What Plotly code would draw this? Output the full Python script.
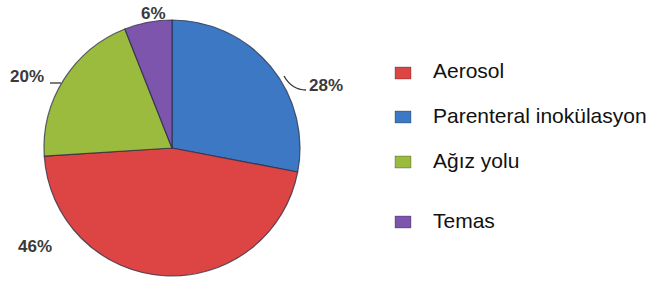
import plotly.graph_objects as go

categories = ["Aerosol", "Parenteral inokülasyon", "Ağız yolu", "Temas"]
values = [46, 28, 20, 6]
colors = ["#dc4544", "#3c78c4", "#9bbb3f", "#7d55ad"]

# slice order around the pie (clockwise from 12 o'clock)
pie_order = [1, 0, 2, 3]

W, H = 646, 281
cx, cy, r = 172, 148, 128


def px(x):
    return x / W


def py(y):
    return 1 - y / H


fig = go.Figure()
fig.add_trace(go.Pie(
    labels=[categories[i] for i in pie_order],
    values=[values[i] for i in pie_order],
    marker=dict(colors=[colors[i] for i in pie_order],
                line=dict(color="rgba(40,45,70,0.75)", width=1.2)),
    sort=False, direction="clockwise", rotation=0,
    textinfo="none", showlegend=False, hoverinfo="label+percent",
    domain=dict(x=[px(cx - r), px(cx + r)], y=[py(cy + r), py(cy - r)]),
))

# percentage labels (pixel positions), in category order
label_pos = [(35, 247), (326, 85), (27, 76), (153, 14)]
annotations = []
for v, (x, y) in zip(values, label_pos):
    annotations.append(dict(
        x=px(x), y=py(y), xref="paper", yref="paper",
        text=f"<b>{v}%</b>", showarrow=False, xanchor="center", yanchor="middle",
        font=dict(family="Liberation Sans, Arial", size=17, color="#3a3a3a"),
    ))

shapes = []
# leader lines
shapes.append(dict(type="path", xref="paper", yref="paper",
                   path=f"M {px(284)} {py(76)} Q {px(292)} {py(90)} {px(306)} {py(90)}",
                   line=dict(color="#333333", width=1.3)))
shapes.append(dict(type="line", xref="paper", yref="paper",
                   x0=px(50), x1=px(61), y0=py(83), y1=py(83),
                   line=dict(color="#333333", width=1.3)))

# legend
legend_y = [71, 115, 160, 220]
for name, col, y in zip(categories, colors, legend_y):
    shapes.append(dict(type="rect", xref="paper", yref="paper",
                       x0=px(395), x1=px(411), y0=py(y + 8), y1=py(y - 4),
                       fillcolor=col, line=dict(color="rgba(0,0,0,0.25)", width=1)))
    annotations.append(dict(
        x=px(431), y=py(y), xref="paper", yref="paper", text=name,
        showarrow=False, xanchor="left", yanchor="middle",
        font=dict(family="Liberation Sans, Arial", size=21, color="#111111"),
    ))

fig.update_layout(
    width=W, height=H, margin=dict(l=0, r=0, t=0, b=0),
    paper_bgcolor="white", plot_bgcolor="white",
    annotations=annotations, shapes=shapes,
)
fig.write_html("out.html", config={"displayModeBar": False},
               post_script="document.body.style.margin='0';document.body.style.overflow='hidden';")
